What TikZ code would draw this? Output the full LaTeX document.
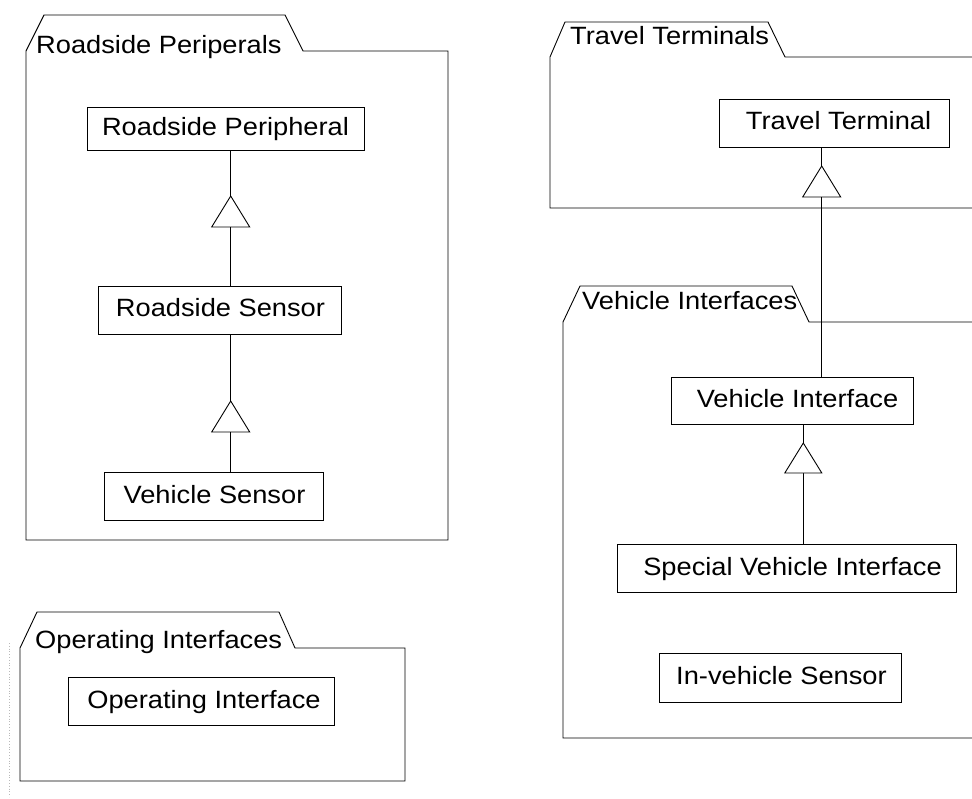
\documentclass[tikz,border=0pt]{standalone}
\usepackage{fontspec}
\setmainfont{Liberation Sans}
\newcommand\wtxt[1]{\scalebox{1.09}[1]{#1}}
\begin{document}
\begin{tikzpicture}[x=1pt,y=-1pt,
  pkg/.style={draw=black, line width=0.9pt, fill=white, line join=miter},
  cls/.style={draw=black, line width=0.9pt, fill=white, inner sep=0pt,
    font=\fontsize{25}{30}\selectfont, text height=19pt, text depth=5pt},
  pkglbl/.style={anchor=base west, inner sep=0pt, font=\fontsize{25}{30}\selectfont},
  conn/.style={draw=black, line width=0.9pt},
  gen/.style={draw=black, line width=0.9pt, fill=white, line join=miter}]
\path[use as bounding box] (0,0) rectangle (972,799);
\clip (0,0) rectangle (972,799);
\fill[white] (0,0) rectangle (972,799);

% packages
\draw[pkg] (26,51) -- (44,15) -- (285,15) -- (303,51) -- (448,51) -- (448,540) -- (26,540) -- cycle;
\draw[pkg] (20,648) -- (37,612) -- (279,612) -- (295,648) -- (405,648) -- (405,781) -- (20,781) -- cycle;
\draw[pkg] (550,57) -- (565,22) -- (768,22) -- (785,57) -- (985,57) -- (985,208) -- (550,208) -- cycle;
\draw[pkg] (563,322) -- (580,286) -- (792,286) -- (809,322) -- (985,322) -- (985,738) -- (563,738) -- cycle;

\node[pkglbl] (lrp) at (36,54) {\wtxt{Roadside Periperals}};
\node[pkglbl] (loi) at (35,648) {\wtxt{Operating Interfaces}};
\node[pkglbl] (ltt) at (570,45) {\wtxt{Travel Terminals}};
\node[pkglbl] (lvi) at (582,310) {\wtxt{Vehicle Interfaces}};

% dotted margin line
\coordinate (d1) at (9,643);
\coordinate (d2) at (9,797);
\draw[gray!55, dotted, line width=0.8pt] (d1) -- (d2);

% classes
\node[cls, minimum width=277pt, minimum height=43pt] (rp) at (225.5,128.5) {\wtxt{Roadside Peripheral}};
\node[cls, minimum width=243pt, minimum height=48pt] (rs) at (219.5,310) {\hspace*{2pt}\wtxt{Roadside Sensor}};
\node[cls, minimum width=219pt, minimum height=48pt] (vs) at (213.5,496) {\hspace*{2pt}\wtxt{Vehicle Sensor}};
\node[cls, minimum width=266pt, minimum height=48pt] (oi) at (201,701) {\hspace*{6pt}\wtxt{Operating Interface}};
\node[cls, minimum width=230pt, minimum height=48pt] (tt) at (834,123) {\hspace*{9pt}\wtxt{Travel Terminal}};
\node[cls, minimum width=242pt, minimum height=47pt] (vi) at (792,401) {\hspace*{11pt}\wtxt{Vehicle Interface}};
\node[cls, minimum width=339pt, minimum height=48pt] (svi) at (786.5,568) {\hspace*{12pt}\wtxt{Special Vehicle Interface}};
\node[cls, minimum width=242pt, minimum height=49pt] (ivs) at (780,677.5) {\hspace*{3pt}\wtxt{In-vehicle Sensor}};

% generalisation apexes
\coordinate (tA) at (230.7,196);
\coordinate (tB) at (230.7,401);
\coordinate (tC) at (821.7,166);
\coordinate (tD) at (803.3,443);

\draw[conn] (rs.north -| tA) -- (rp.south -| tA);
\draw[gen] (tA) -- ++(-19,31) -- ++(38,0) -- cycle;
\draw[conn] (vs.north -| tB) -- (rs.south -| tB);
\draw[gen] (tB) -- ++(-19,31) -- ++(38,0) -- cycle;
\draw[conn] (vi.north -| tC) -- (tt.south -| tC);
\draw[gen] (tC) -- ++(-19,31) -- ++(38,0) -- cycle;
\draw[conn] (svi.north -| tD) -- (vi.south -| tD);
\draw[gen] (tD) -- ++(-18.5,30) -- ++(37,0) -- cycle;
\end{tikzpicture}
\end{document}
